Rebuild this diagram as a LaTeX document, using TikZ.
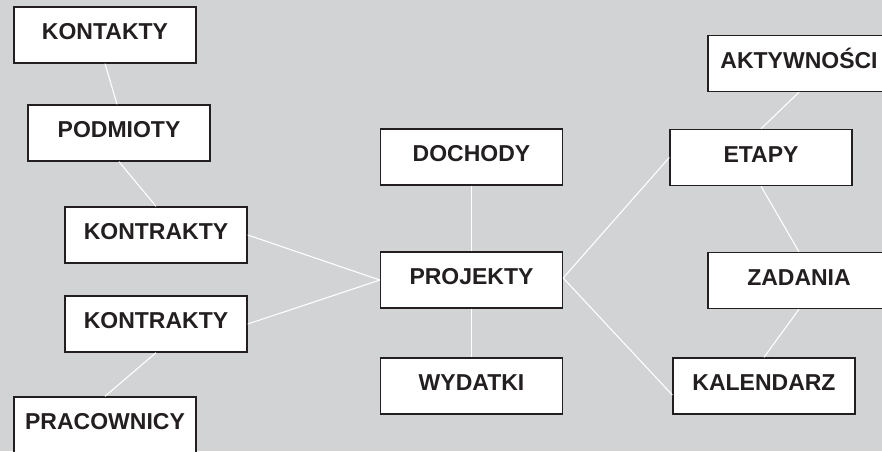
\documentclass[tikz,border=0pt]{standalone}
\usepackage{fontspec}
\setmainfont{Liberation Sans}
\definecolor{bggray}{HTML}{D1D3D4}
\definecolor{inkdark}{HTML}{231F20}
\tikzset{
  entity/.style={draw=inkdark, line width=1.4pt, fill=white, text=inkdark,
    minimum width=182pt, minimum height=56pt, inner sep=0pt,
    font=\fontsize{23}{27}\selectfont\bfseries,
    text height=16.5pt, text depth=7.5pt},
  link/.style={draw=white, line width=1.1pt}
}
\begin{document}
\begin{tikzpicture}[x=1pt,y=-1pt]
\useasboundingbox (0,0) rectangle (882,451);
\clip (0,0) rectangle (882,451);
\fill[bggray] (0,0) rectangle (882,451);
\node[entity] (kontakty) at (105,35) {KONTAKTY};
\node[entity] (podmioty) at (119,133) {PODMIOTY};
\node[entity] (kontr1) at (156,235) {KONTRAKTY};
\node[entity] (kontr2) at (156,324) {KONTRAKTY};
\node[entity] (pracownicy) at (105,425) {PRACOWNICY};
\node[entity] (dochody) at (471.5,157) {DOCHODY};
\node[entity] (projekty) at (471.5,280) {PROJEKTY};
\node[entity] (wydatki) at (471.5,386) {WYDATKI};
\node[entity] (aktyw) at (799,63.5) {AKTYWNOŚCI};
\node[entity] (etapy) at (761,157.5) {ETAPY};
\node[entity] (zadania) at (799,280.5) {ZADANIA};
\node[entity] (kalendarz) at (764,386) {KALENDARZ};
\draw[link] (kontakty.south) -- ([xshift=-2pt]podmioty.north);
\draw[link] (podmioty.south) -- (kontr1.north);
\draw[link] (kontr1.east) -- (projekty.west);
\draw[link] (kontr2.east) -- (projekty.west);
\draw[link] (kontr2.south) -- (pracownicy.north);
\draw[link] (dochody.south) -- (projekty.north);
\draw[link] (projekty.south) -- (wydatki.north);
\draw[link] ([yshift=2pt]projekty.east) -- (etapy.west);
\draw[link] ([yshift=2pt]projekty.east) -- ([yshift=-9pt]kalendarz.west);
\draw[link] (aktyw.south) -- (etapy.north);
\draw[link] (etapy.south) -- (zadania.north);
\draw[link] (zadania.south) -- (kalendarz.north);
\end{tikzpicture}
\end{document}
